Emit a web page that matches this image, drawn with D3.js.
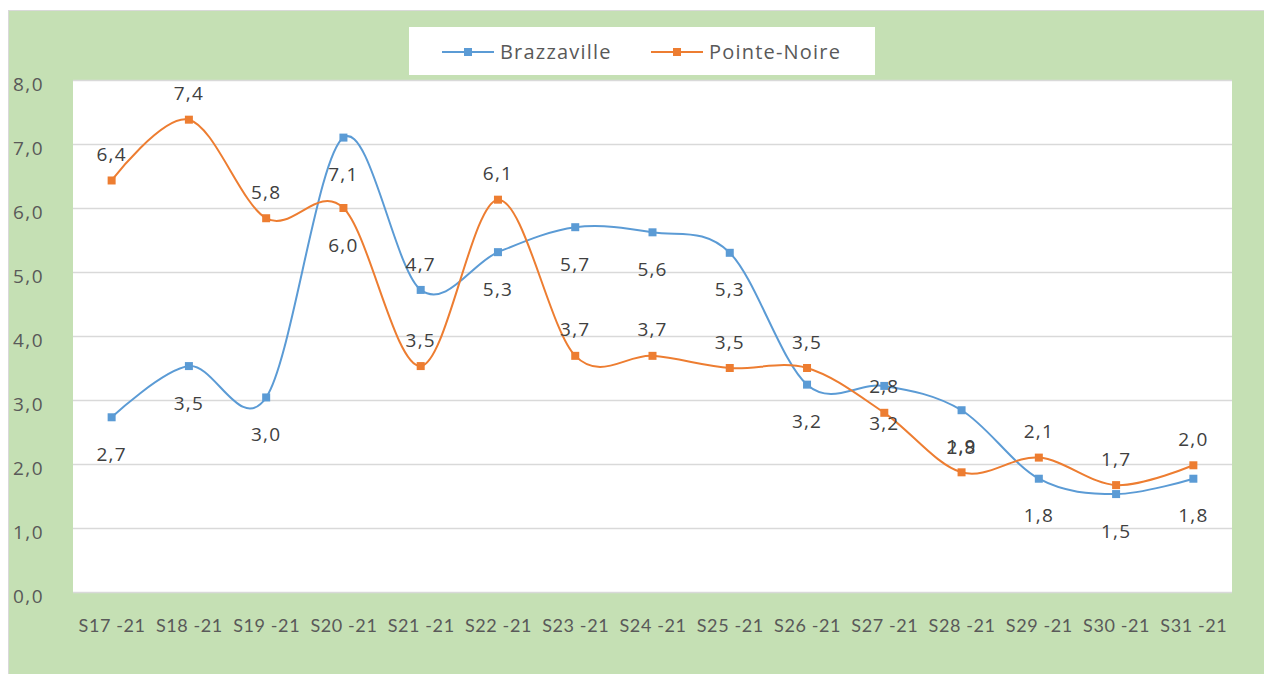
<!DOCTYPE html>
<html>
<head>
<meta charset="utf-8">
<script src="https://cdn.jsdelivr.net/npm/d3@7"></script>
<style>
  body { margin: 0; background: #ffffff; }
  svg text { font-family: "Open Sans", Lato, sans-serif; }
</style>
</head>
<body>
<div id="chart"></div>
<script>
// weekly values
var weeks = ["S17 -21", "S18 -21", "S19 -21", "S20 -21", "S21 -21", "S22 -21", "S23 -21", "S24 -21",
             "S25 -21", "S26 -21", "S27 -21", "S28 -21", "S29 -21", "S30 -21", "S31 -21"];
var brazzaville = [2.73, 3.53, 3.04, 7.1, 4.72, 5.31, 5.7, 5.62, 5.3, 3.24, 3.22, 2.84, 1.77, 1.53, 1.77];
var pointeNoire = [6.43, 7.38, 5.84, 6.0, 3.53, 6.13, 3.69, 3.69, 3.5, 3.5, 2.8, 1.87, 2.1, 1.67, 1.98];
// where Excel put each data label: b = below, a = above
var brazzavilleLabelPos = ["b","b","b","b","a","b","b","b","b","b","b","b","b","b","b"];
var pointeNoireLabelPos = ["a","a","a","b","a","a","a","a","a","a","a","a","a","a","a"];
var yTicks = [0, 1, 2, 3, 4, 5, 6, 7, 8];

var W = 1264, H = 674;
var plot = {left: 73, right: 1232, top: 80, bottom: 592};

var svg = d3.select("#chart").append("svg")
  .attr("width", W).attr("height", H);

// green panel
svg.append("rect")
  .attr("x", 8.5).attr("y", 10.5).attr("width", W).attr("height", H)
  .attr("fill", "#c5e0b4").attr("stroke", "#d9d9d9");

// white plot area
svg.append("rect")
  .attr("x", plot.left).attr("y", plot.top)
  .attr("width", plot.right - plot.left).attr("height", plot.bottom - plot.top)
  .attr("fill", "#ffffff");

var x = d3.scalePoint().domain(weeks).range([plot.left, plot.right]).padding(0.5);
var y = d3.scaleLinear().domain([0, 8]).range([plot.bottom, plot.top]);

var fmt = function(v){ return d3.format(".1f")(v).replace(".", ","); };

// gridlines
svg.append("g").selectAll("line")
  .data(yTicks)
  .join("line")
  .attr("x1", plot.left).attr("x2", plot.right)
  .attr("y1", function(d){ return Math.round(y(d)) + 0.5; })
  .attr("y2", function(d){ return Math.round(y(d)) + 0.5; })
  .attr("stroke", "#d9d9d9").attr("stroke-width", 1.3);

// y labels
svg.append("g").selectAll("text")
  .data(yTicks)
  .join("text")
  .attr("x", 13)
  .attr("y", function(d){ return y(d) + 4; })
  .attr("dy", "0.35em")
  .attr("font-size", 19)
  .attr("letter-spacing", 1.5)
  .attr("fill", "#595959")
  .text(fmt);

// x labels through a d3 axis
var xAxis = svg.append("g")
  .attr("transform", "translate(0," + plot.bottom + ")")
  .call(d3.axisBottom(x).tickSize(0).tickPadding(27));
xAxis.select(".domain").remove();
xAxis.selectAll("text")
  .attr("font-size", 18)
  .attr("letter-spacing", 0.6)
  .attr("fill", "#595959")
  .style("font-family", "Lato, sans-serif");

var series = [
  {name: "Brazzaville", values: brazzaville, pos: brazzavilleLabelPos, color: "#5b9bd5"},
  {name: "Pointe-Noire", values: pointeNoire, pos: pointeNoireLabelPos, color: "#ed7d31"}
];

var line = d3.line()
  .x(function(d, i){ return x(weeks[i]); })
  .y(function(d){ return y(d); })
  .curve(d3.curveCardinal.tension(0));

series.forEach(function(s){
  svg.append("path")
    .attr("d", line(s.values))
    .attr("fill", "none")
    .attr("stroke", s.color)
    .attr("stroke-width", 2);

  svg.append("g").selectAll("rect")
    .data(s.values)
    .join("rect")
    .attr("x", function(d, i){ return x(weeks[i]) - 4; })
    .attr("y", function(d){ return y(d) - 4; })
    .attr("width", 8).attr("height", 8)
    .attr("fill", s.color);
});

// data labels drawn after both lines so they sit on top
series.forEach(function(s){
  svg.append("g").selectAll("text")
    .data(s.values)
    .join("text")
    .attr("x", function(d, i){ return x(weeks[i]); })
    .attr("y", function(d, i){ return y(d) + (s.pos[i] == "a" ? -26 : 37); })
    .attr("dy", "0.35em")
    .attr("text-anchor", "middle")
    .attr("font-size", 19)
    .attr("letter-spacing", 1.2)
    .attr("fill", "#404040")
    .text(fmt);
});

// legend
var legend = svg.append("g");
legend.append("rect")
  .attr("x", 409).attr("y", 27).attr("width", 466).attr("height", 48)
  .attr("fill", "#ffffff");

var legendX = [442, 651];
series.forEach(function(s, i){
  var lx = legendX[i];
  legend.append("line")
    .attr("x1", lx).attr("x2", lx + 52)
    .attr("y1", 52).attr("y2", 52)
    .attr("stroke", s.color).attr("stroke-width", 2);
  legend.append("rect")
    .attr("x", lx + 22).attr("y", 48).attr("width", 8).attr("height", 8)
    .attr("fill", s.color);
  legend.append("text")
    .attr("x", lx + 58).attr("y", 52)
    .attr("dy", "0.35em")
    .attr("font-size", 20)
    .attr("letter-spacing", 1.2)
    .attr("fill", "#595959")
    .text(s.name);
});
</script>
</body>
</html>
